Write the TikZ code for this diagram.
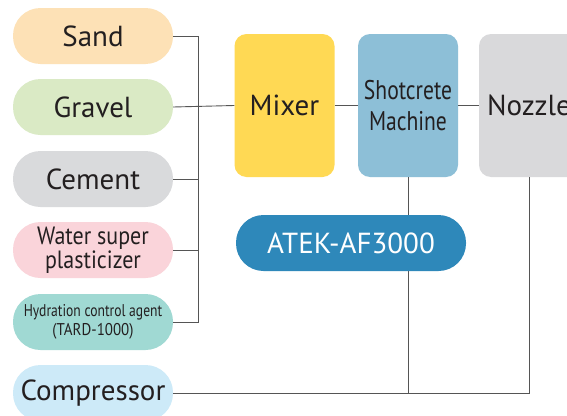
\documentclass[tikz,border=0pt]{standalone}
\usepackage{fontspec}
\setmainfont{PT Sans}
\usetikzlibrary{positioning}
\definecolor{txt}{HTML}{231F20}
\definecolor{wirec}{HTML}{555555}
\definecolor{sandc}{HTML}{FDE1B6}
\definecolor{gravelc}{HTML}{DAEAC5}
\definecolor{cementc}{HTML}{D9DADC}
\definecolor{waterc}{HTML}{FAD4DA}
\definecolor{hydc}{HTML}{A0D9D3}
\definecolor{compc}{HTML}{CDEAF8}
\definecolor{mixc}{HTML}{FFD954}
\definecolor{shotc}{HTML}{8DBFD7}
\definecolor{nozc}{HTML}{D9D9DB}
\definecolor{atekc}{HTML}{2E88BA}

\begin{document}
\begin{tikzpicture}[x=1pt,y=-1pt,
	pill/.style={rounded corners=27.5pt,minimum width=160pt,minimum height=56pt,inner sep=0pt,align=center,text=txt,font=\fontsize{29}{29}\selectfont},
	box/.style={rounded corners=12pt,minimum width=100pt,minimum height=143pt,inner sep=0pt,align=center,text=txt,font=\fontsize{29}{29}\selectfont},
	wire/.style={draw=wirec,line width=0.9pt}]
	\useasboundingbox (0,0) rectangle (567,415);
	\fill[white] (0,0) rectangle (567,415);
	% raw materials
	\node[pill,fill=sandc] (sand) at (93,36) {Sand};
	\node[pill,fill=gravelc] (gravel) at (93,107) {Gravel};
	\node[pill,fill=cementc] (cement) at (93,179) {Cement};
	\node[pill,fill=waterc,font=\fontsize{25}{21}\selectfont] (water) at (93,250) {\scalebox{0.88}[1]{Water super}\\\scalebox{0.88}[1]{plasticizer}};
	\node[pill,fill=hydc,font=\fontsize{17}{19}\selectfont] (hyd) at (93,322) {\scalebox{0.8}[1]{Hydration control agent}\\\scalebox{0.88}[1]{(TARD-1000)}};
	\node[pill,fill=compc] (comp) at (93,393) {Compressor};
	% machines
	\node[box,fill=mixc] (mixer) at (284.5,105.5) {Mixer};
	\node[box,fill=shotc,font=\fontsize{27}{31}\selectfont] (shot) at (408,105.5) {\scalebox{0.8}[1]{Shotcrete}\\\scalebox{0.8}[1]{Machine}};
	\node[box,fill=nozc] (noz) at (529,105.5) {Nozzle};
	\coordinate (bus) at (198,0);
	% connectors
	\draw[wire] (sand.east) -| (bus |- hyd.east) -- (hyd.east);
	\draw[wire] (gravel.east) -- (mixer.west);
	\draw[wire] (cement.east) -- (cement.east -| bus);
	\draw[wire] (water.east) -- (water.east -| bus);
	\draw[wire] (mixer.east) -- (shot.west);
	\draw[wire] (shot.east) -- (noz.west);
	\draw[wire] (shot.south) -- (shot.south |- comp.east);
	\draw[wire] (comp.east) -| (noz.south);
	\node[pill,fill=atekc,text=white,minimum width=230pt] (atek) at (351,243) {ATEK-AF3000};
\end{tikzpicture}
\end{document}
